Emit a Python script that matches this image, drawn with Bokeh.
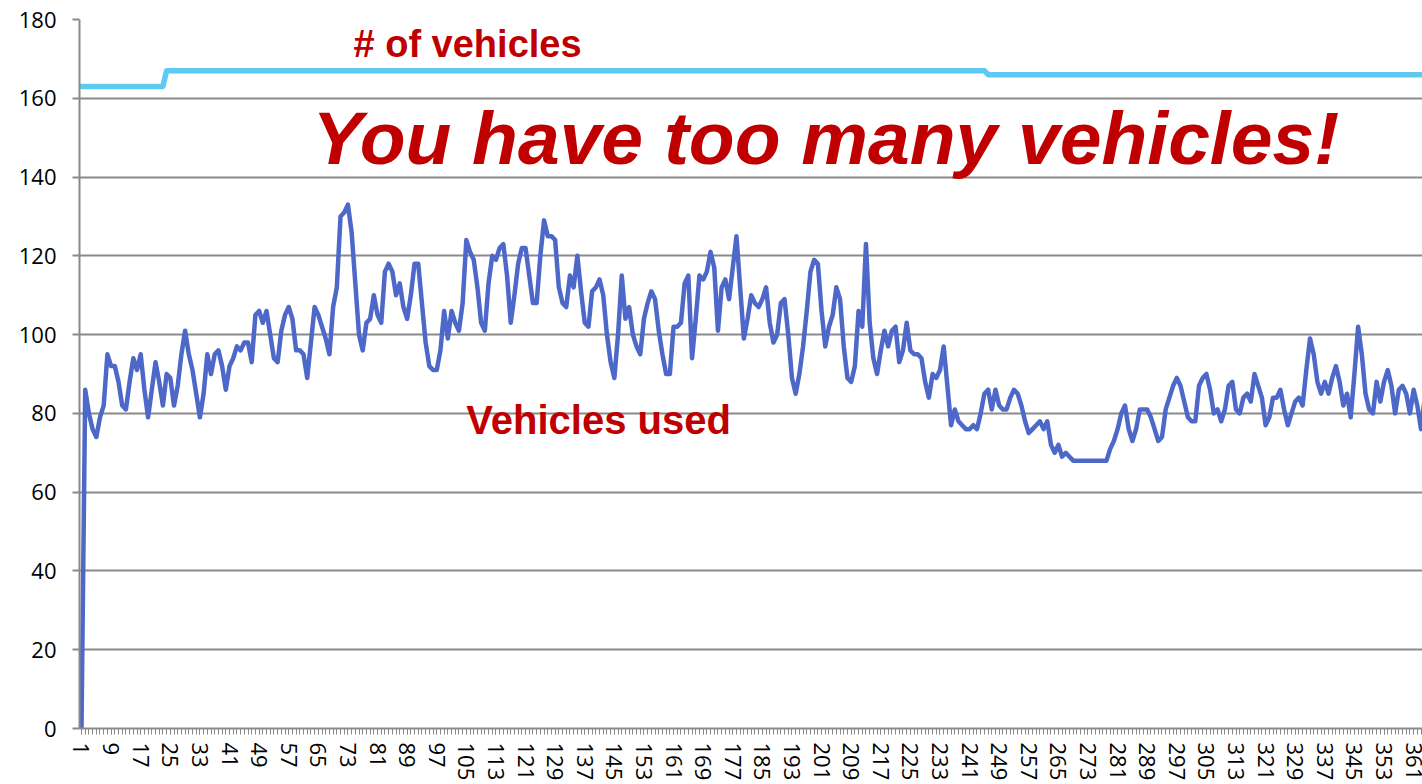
from bokeh.plotting import figure
from bokeh.models import Range1d, FixedTicker, Label, ColumnDataSource
from bokeh.embed import file_html
from bokeh.resources import INLINE

# ---- data ----
vehicles_used = [
    0, 86, 80, 76, 74, 79, 82, 95, 92, 92, 88, 82, 81, 88, 94, 91, 95, 86, 79, 86,
    93, 88, 82, 90, 89, 82, 87, 95, 101, 95, 91, 85, 79, 85, 95, 90, 95, 96, 92, 86,
    92, 94, 97, 96, 98, 98, 93, 105, 106, 103, 106, 100, 94, 93, 101, 105, 107, 104, 96, 96,
    95, 89, 98, 107, 105, 102, 99, 95, 107, 112, 130, 131, 133, 126, 113, 100, 96, 103, 104, 110,
    105, 103, 116, 118, 116, 110, 113, 107, 104, 110, 118, 118, 108, 98, 92, 91, 91, 96, 106, 99,
    106, 103, 101, 108, 124, 121, 119, 112, 103, 101, 113, 120, 119, 122, 123, 115, 103, 110, 118, 122,
    122, 115, 108, 108, 120, 129, 125, 125, 124, 112, 108, 107, 115, 112, 120, 111, 103, 102, 111, 112,
    114, 110, 100, 93, 89, 100, 115, 104, 107, 100, 97, 95, 104, 108, 111, 109, 101, 95, 90, 90,
    102, 102, 103, 113, 115, 94, 104, 115, 114, 116, 121, 117, 101, 112, 114, 109, 117, 125, 112, 99,
    104, 110, 108, 107, 109, 112, 103, 98, 100, 108, 109, 100, 89, 85, 90, 97, 106, 116, 119, 118,
    106, 97, 102, 105, 112, 109, 97, 89, 88, 92, 106, 102, 123, 103, 94, 90, 96, 101, 97, 101,
    102, 93, 96, 103, 96, 95, 95, 94, 88, 84, 90, 89, 91, 97, 87, 77, 81, 78, 77, 76,
    76, 77, 76, 80, 85, 86, 81, 86, 82, 81, 81, 84, 86, 85, 82, 78, 75, 76, 77, 78,
    76, 78, 72, 70, 72, 69, 70, 69, 68, 68, 68, 68, 68, 68, 68, 68, 68, 68, 71, 73,
    76, 80, 82, 76, 73, 76, 81, 81, 81, 79, 76, 73, 74, 81, 84, 87, 89, 87, 83, 79,
    78, 78, 87, 89, 90, 86, 80, 81, 78, 81, 87, 88, 81, 80, 84, 85, 83, 90, 87, 84,
    77, 79, 84, 84, 86, 81, 77, 80, 83, 84, 82, 91, 99, 95, 88, 85, 88, 85, 89, 92,
    88, 82, 85, 79, 90, 102, 95, 85, 81, 80, 88, 83, 88, 91, 87, 80, 86, 87, 85, 80,
    86, 82, 76, 84,
]
days = list(range(1, len(vehicles_used) + 1))

# fleet size (# of vehicles), given at the days where it changes
fleet_day = [1, 23, 24, 245, 246, 365]
fleet_count = [163, 163, 167, 167, 166, 166]

x_tick_days = list(range(1, 366, 8))
y_ticks = [0, 20, 40, 60, 80, 100, 120, 140, 160, 180]

# ---- figure ----
GRAY = "#8A8A8A"
RED = "#C00000"

p = figure(width=1422, height=784, output_backend="svg", toolbar_location=None,
           x_range=Range1d(0.46, 363.4), y_range=Range1d(0, 180),
           min_border_left=79, min_border_right=0, min_border_top=19,
           min_border_bottom=56)
p.outline_line_color = None
p.background_fill_color = "white"
p.border_fill_color = "white"

p.xgrid.visible = False
p.ygrid.grid_line_color = GRAY
p.ygrid.grid_line_width = 2
p.ygrid.ticker = FixedTicker(ticks=y_ticks)

p.yaxis.ticker = FixedTicker(ticks=y_ticks)
p.yaxis.axis_line_color = GRAY
p.yaxis.axis_line_width = 2
p.yaxis.major_tick_line_color = GRAY
p.yaxis.major_tick_line_width = 2
p.yaxis.major_tick_out = 7
p.yaxis.major_tick_in = 0
p.yaxis.minor_tick_line_color = None
p.yaxis.major_label_text_font = "Open Sans"
p.yaxis.major_label_text_font_size = "22px"
p.yaxis.major_label_text_color = "#000000"
p.yaxis.major_label_standoff = 16

p.xaxis.ticker = FixedTicker(ticks=x_tick_days, minor_ticks=days)
p.xaxis.axis_line_color = GRAY
p.xaxis.axis_line_width = 2
p.xaxis.major_tick_line_color = GRAY
p.xaxis.minor_tick_line_color = GRAY
p.xaxis.major_tick_out = 6
p.xaxis.minor_tick_out = 6
p.xaxis.major_tick_in = 0
p.xaxis.minor_tick_in = 0
p.xaxis.major_label_orientation = "vertical"
p.xaxis.major_label_text_font = "Open Sans"
p.xaxis.major_label_text_font_size = "22px"
p.xaxis.major_label_text_color = "#000000"
p.xaxis.major_label_standoff = 8

used_src = ColumnDataSource(dict(day=days, used=vehicles_used))
fleet_src = ColumnDataSource(dict(day=fleet_day, count=fleet_count))

p.line("day", "count", source=fleet_src, line_color="#5DCAF3", line_width=5.5,
       line_cap="round", line_join="round")
p.line("day", "used", source=used_src, line_color="#4D68C8", line_width=4.5,
       line_join="round")

p.add_layout(Label(x=74.5, y=173.8, text="# of vehicles", text_color=RED,
                   text_font="Liberation Sans", text_font_style="bold",
                   text_font_size="38px", text_align="left",
                   text_baseline="alphabetic"))
p.add_layout(Label(x=63.4, y=150.0, text="You have too many vehicles!", text_color=RED,
                   text_font="Liberation Sans", text_font_style="bold italic",
                   text_font_size="75px", text_align="left",
                   text_baseline="alphabetic"))
p.add_layout(Label(x=105.0, y=78.2, text="Vehicles used", text_color=RED,
                   text_font="Liberation Sans", text_font_style="bold",
                   text_font_size="40px", text_align="left",
                   text_baseline="alphabetic"))

open("out.html", "w").write(file_html(p, INLINE))
